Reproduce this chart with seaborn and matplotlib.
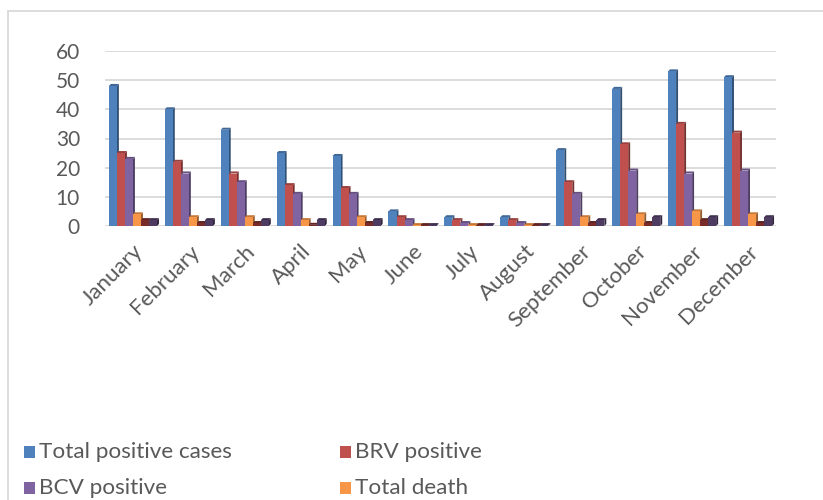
import matplotlib
matplotlib.use("Agg")
import matplotlib.pyplot as plt
from matplotlib.patches import Rectangle, Polygon
import matplotlib.colors as mcolors
import seaborn as sns
import pandas as pd

months = ["January", "February", "March", "April", "May", "June", "July",
          "August", "September", "October", "November", "December"]
total_positive = [48, 40, 33, 25, 24, 5, 3, 3, 26, 47, 53, 51]
brv_positive = [25, 22, 18, 14, 13, 3, 2, 2, 15, 28, 35, 32]
bcv_positive = [23, 18, 15, 11, 11, 2, 1, 1, 11, 19, 18, 19]
total_death = [4, 3, 3, 2, 3, 0.3, 0.3, 0.3, 3, 4, 5, 4]
brv_death = [2, 1, 1, 0.4, 1, 0.3, 0.3, 0.3, 1, 1, 2, 1]
bcv_death = [2, 2, 2, 2, 2, 0.3, 0.3, 0.3, 2, 3, 3, 3]

series = {
    "Total positive cases": total_positive,
    "BRV positive": brv_positive,
    "BCV positive": bcv_positive,
    "Total death": total_death,
    "BRV death": brv_death,
    "BCV death": bcv_death,
}
colors = ["#4F81BD", "#C0504D", "#8064A2", "#F79646", "#772C2A", "#4D3B62"]

rows = []
for name, vals in series.items():
    for m, v in zip(months, vals):
        rows.append({"Month": m, "Series": name, "Value": v})
df = pd.DataFrame(rows)

sns.set_theme(style="white")
plt.rcParams["font.family"] = ["Lato", "DejaVu Sans"]
text_color = "#595959"

fig = plt.figure(figsize=(8.23, 5.0), dpi=100)
ax = fig.add_axes([105 / 823, 1 - 226 / 500, (776 - 105) / 823, (226 - 51) / 500])

sns.barplot(data=df, x="Month", y="Value", hue="Series", order=months,
            hue_order=list(series.keys()), palette=colors, width=0.86,
            gap=0, saturation=1, legend=False, ax=ax, zorder=3,
            linewidth=0, edgecolor="none")

# pseudo-3D faces: darker right side and top on every bar
dx, dy = 0.035, 0.7
for patch in list(ax.patches):
    x0, y0 = patch.get_x(), patch.get_y()
    w, h = patch.get_width(), patch.get_height()
    fc = mcolors.to_rgb(patch.get_facecolor())
    dark = tuple(c * 0.62 for c in fc)
    mid = tuple(c * 0.8 for c in fc)
    side = Polygon([(x0 + w, y0), (x0 + w + dx, y0 + dy),
                    (x0 + w + dx, y0 + h + dy), (x0 + w, y0 + h)],
                   closed=True, facecolor=dark, edgecolor="none", zorder=2.9)
    top = Polygon([(x0, y0 + h), (x0 + dx, y0 + h + dy),
                   (x0 + w + dx, y0 + h + dy), (x0 + w, y0 + h)],
                  closed=True, facecolor=mid, edgecolor="none", zorder=2.9)
    ax.add_patch(side)
    ax.add_patch(top)

ax.set_xlim(-0.5, len(months) - 0.5)
ax.set_ylim(0, 60)
ax.set_yticks(range(0, 61, 10))
ax.yaxis.grid(True, color="#D9D9D9", linewidth=1.3, zorder=0)
ax.xaxis.grid(False)
for s in ax.spines.values():
    s.set_visible(False)
ax.set_xlabel("")
ax.set_ylabel("")
ax.tick_params(axis="y", length=0, pad=18, labelsize=15, labelcolor=text_color)
ax.tick_params(axis="x", length=0, pad=11, labelsize=16, labelcolor=text_color)
for lbl in ax.get_xticklabels():
    lbl.set_rotation(45)
    lbl.set_ha("right")
    lbl.set_rotation_mode("anchor")

# legend laid out row by row
legend_items = list(zip(list(series.keys())[:4], colors[:4]))
positions = [(24, 452), (340, 452), (24, 488), (340, 488)]
for (name, col), (px, py) in zip(legend_items, positions):
    fig.patches.append(Rectangle((px / 823, 1 - (py + 6) / 500), 11 / 823, 12 / 500,
                                 transform=fig.transFigure, facecolor=col,
                                 edgecolor="none"))
    fig.text((px + 15) / 823, 1 - py / 500, name, fontsize=16.2,
             color=text_color, va="center", ha="left")

# chart frame
fig.patches.append(Rectangle((8 / 823, -0.1), 1.0, 1 - 11 / 500 + 0.1,
                             transform=fig.transFigure, facecolor="none",
                             edgecolor="#D9D9D9", linewidth=1.3))

fig.savefig("out.png", dpi=100)
